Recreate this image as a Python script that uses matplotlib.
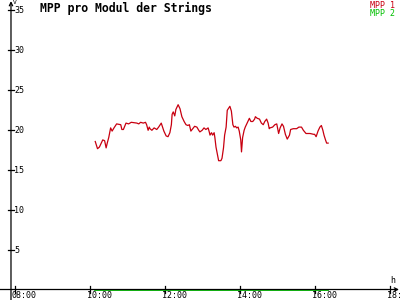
import matplotlib
matplotlib.use("Agg")
import matplotlib.pyplot as plt

# MPP 1 readings (time in decimal hours, value)
mpp1_times = [10.14, 10.20, 10.25, 10.34, 10.39, 10.43, 10.46, 10.50, 10.55, 10.59,
              10.64, 10.71, 10.82, 10.85, 10.89, 10.96, 11.03, 11.10, 11.25, 11.30,
              11.35, 11.42, 11.48, 11.51, 11.55, 11.58, 11.60, 11.65, 11.71, 11.78,
              11.83, 11.90, 11.97, 12.03, 12.08, 12.13, 12.17, 12.19, 12.22, 12.26,
              12.29, 12.35, 12.40, 12.45, 12.51, 12.56, 12.61, 12.65, 12.69, 12.74,
              12.79, 12.85, 12.90, 12.93, 12.99, 13.04, 13.09, 13.15, 13.18, 13.20,
              13.24, 13.27, 13.31, 13.33, 13.36, 13.40, 13.43, 13.49, 13.52, 13.56,
              13.59, 13.63, 13.66, 13.70, 13.73, 13.77, 13.81, 13.84, 13.88, 13.91,
              13.95, 13.98, 14.02, 14.04, 14.07, 14.11, 14.14, 14.20, 14.25, 14.29,
              14.34, 14.39, 14.41, 14.46, 14.52, 14.57, 14.62, 14.66, 14.71, 14.75,
              14.78, 14.80, 14.87, 14.93, 14.98, 15.03, 15.07, 15.12, 15.16, 15.21,
              15.26, 15.32, 15.35, 15.42, 15.51, 15.57, 15.64, 15.69, 15.76, 15.87,
              15.96, 15.99, 16.03, 16.08, 16.13, 16.17, 16.21, 16.24, 16.28, 16.31,
              16.35]
mpp1_values = [18.5, 17.6, 17.8, 18.7, 18.6, 17.7, 18.3, 19.0, 20.2, 19.8,
               20.2, 20.7, 20.6, 20.0, 20.0, 20.8, 20.7, 20.9, 20.8, 20.7,
               20.9, 20.8, 20.9, 20.6, 19.9, 20.3, 20.1, 19.9, 20.2, 20.0,
               20.3, 20.8, 19.8, 19.2, 19.1, 19.6, 20.6, 21.9, 22.2, 21.7,
               22.5, 23.1, 22.6, 21.6, 21.0, 20.6, 20.5, 20.6, 19.8, 20.1,
               20.4, 20.3, 19.9, 19.7, 19.9, 20.2, 20.0, 20.2, 19.7, 19.3,
               19.6, 19.3, 19.6, 19.0, 17.8, 16.8, 16.1, 16.1, 16.4, 17.7,
               19.3, 20.3, 22.4, 22.7, 22.9, 22.3, 20.6, 20.3, 20.4, 20.2,
               20.3, 19.8, 18.7, 17.2, 19.0, 19.9, 20.3, 20.9, 21.4, 21.0,
               21.0, 21.3, 21.6, 21.4, 21.3, 20.8, 20.6, 21.0, 21.3, 20.8,
               20.1, 20.2, 20.3, 20.6, 20.7, 19.5, 20.2, 20.7, 20.4, 19.4,
               18.8, 19.3, 20.0, 20.1, 20.1, 20.3, 20.3, 19.9, 19.5, 19.5,
               19.4, 19.4, 19.1, 19.8, 20.3, 20.5, 19.9, 19.3, 18.7, 18.3,
               18.3]

# MPP 2 stays at zero over the same period
mpp2_times = [10.14, 16.35]
mpp2_values = [0.0, 0.0]

x_ticks = [8, 10, 12, 14, 16, 18]
x_labels = ["08:00", "10:00", "12:00", "14:00", "16:00", "18:00"]
y_ticks = [5, 10, 15, 20, 25, 30, 35]

red = "#c80010"
green = "#00c000"
mono = "DejaVu Sans Mono"

fig = plt.figure(figsize=(4, 3), dpi=100)
ax = fig.add_axes([0, 0, 1, 1])
x0, x1 = 7.6, 18.2667
y0, y1 = -1.3125, 36.1875
ax.set_xlim(x0, x1)
ax.set_ylim(y0, y1)
yaxis_x = 7.893

ax.plot(mpp2_times, mpp2_values, color=green, lw=1.3, zorder=3)
ax.plot(mpp1_times, mpp1_values, color=red, lw=0.9, zorder=4)

# axis lines with arrows
ax.annotate("", xy=(yaxis_x, 36.05), xytext=(yaxis_x, y0),
            arrowprops=dict(arrowstyle="->", lw=0.9, shrinkA=0, shrinkB=0,
                            mutation_scale=6, color="black"))
ax.annotate("", xy=(18.24, 0), xytext=(x0, 0),
            arrowprops=dict(arrowstyle="->", lw=0.9, shrinkA=0, shrinkB=0,
                            mutation_scale=6, color="black"))
for s in ax.spines.values():
    s.set_visible(False)
ax.set_xticks([])
ax.set_yticks([])

# tick marks and labels
dx = 0.08
dy = 0.4
for t in y_ticks:
    ax.plot([yaxis_x - dx, yaxis_x + dx], [t, t], color="black", lw=0.9)
    ax.text(yaxis_x + 0.08, t - 0.1, str(t), fontsize=6, family=mono,
            ha="left", va="center")
for t, lab in zip(x_ticks, x_labels):
    ax.plot([t, t], [-dy, dy], color="black", lw=0.9)
    ax.text(t - 0.08, -1.12, lab, fontsize=6, family=mono,
            ha="left", va="baseline", clip_on=False)

ax.text(yaxis_x + 0.06, 36.25, "V", fontsize=4.5, family=mono, ha="left", va="top")
ax.text(18.0, 0.6, "h", fontsize=6, family=mono, ha="left", va="bottom")

fig.text(40 / 400, 1 - 8 / 300, "MPP pro Modul der Strings", fontsize=8.3,
         family=mono, weight="bold", ha="left", va="center")
fig.text(395 / 400, 1 - 6 / 300, "MPP 1", fontsize=6, family=mono,
         color=red, ha="right", va="center")
fig.text(395 / 400, 1 - 13.5 / 300, "MPP 2", fontsize=6, family=mono,
         color=green, ha="right", va="center")

fig.savefig("out.png", dpi=100)
